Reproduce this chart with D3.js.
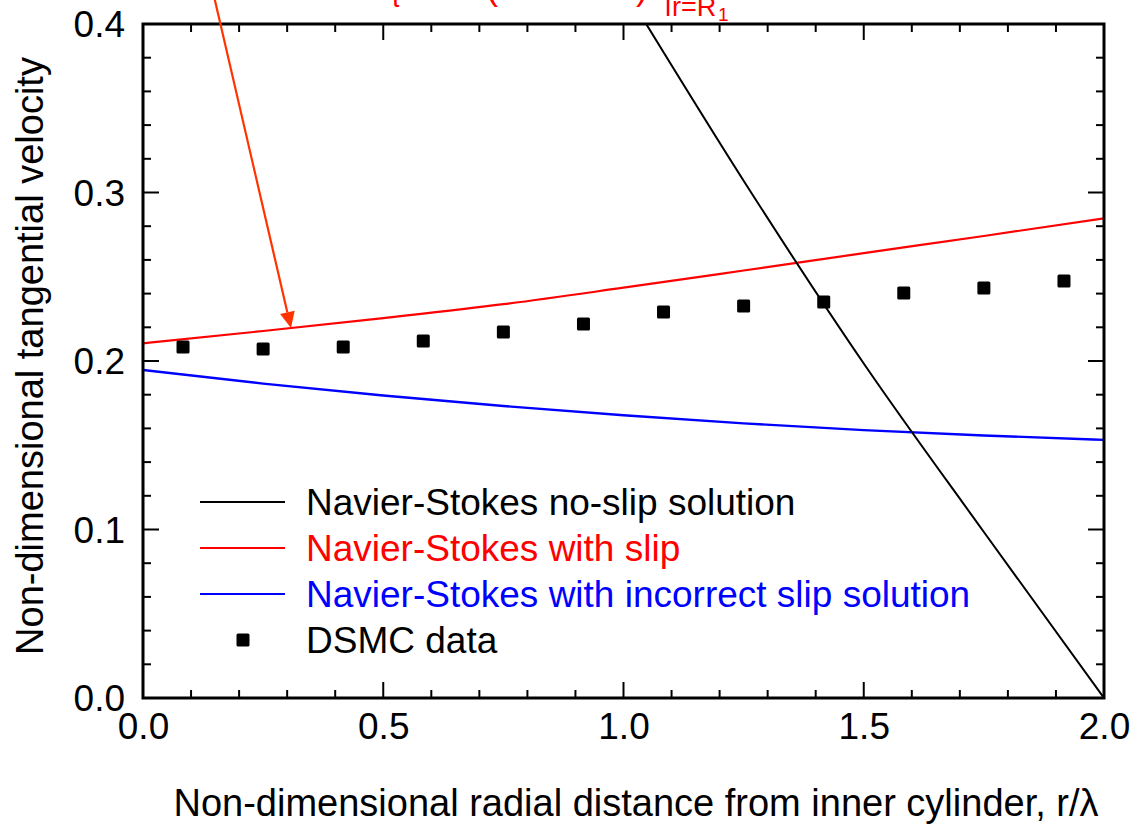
<!DOCTYPE html>
<html>
<head>
<meta charset="utf-8">
<script src="https://cdn.jsdelivr.net/npm/d3@7"></script>
<style>
  html, body { margin: 0; padding: 0; background: #fff; }
  svg { display: block; }
  text { font-family: "Liberation Sans", Arial, Helvetica, sans-serif; }
</style>
</head>
<body>
<svg id="chart" width="1133" height="824"></svg>
<script>
// Tangential velocity profiles between concentric cylinders
const xTicks = [0.0, 0.5, 1.0, 1.5, 2.0];
const yTicks = [0.0, 0.1, 0.2, 0.3, 0.4];

// Navier-Stokes no-slip solution (runs off the top of the frame)
const noSlipR = [1.0, 1.25, 1.5, 1.75, 2.0];
const noSlipV = [0.422, 0.307, 0.1985, 0.0985, 0.0];

// Navier-Stokes with slip
const slipR = [0.0, 0.25, 0.5, 0.75, 1.0, 1.25, 1.5, 1.75, 2.0];
const slipV = [0.2105, 0.2178, 0.2255, 0.2337, 0.2435, 0.2537, 0.2640, 0.2742, 0.2847];

// Navier-Stokes with incorrect slip solution
const badSlipR = [0.0, 0.25, 0.5, 0.75, 1.0, 1.25, 1.5, 1.75, 2.0];
const badSlipV = [0.1947, 0.1866, 0.1795, 0.1733, 0.1678, 0.1630, 0.1590, 0.1558, 0.1532];

// DSMC data
const dsmcR = [0.0833, 0.25, 0.4167, 0.5833, 0.75, 0.9167, 1.0833, 1.25, 1.4167, 1.5833, 1.75, 1.9167];
const dsmcV = [0.2083, 0.2071, 0.2083, 0.2119, 0.2172, 0.2220, 0.2291, 0.2326, 0.2350, 0.2404, 0.2433, 0.2475];

const legendLabels = [
  "Navier-Stokes no-slip solution",
  "Navier-Stokes with slip",
  "Navier-Stokes with incorrect slip solution",
  "DSMC data"
];

const svg = d3.select("#chart");
const M = { left: 143, right: 1104, top: 24, bottom: 698 };
const FS = 37, TFS = 38;

const x = d3.scaleLinear().domain([0, 2]).range([M.left, M.right]);
const y = d3.scaleLinear().domain([0, 0.4]).range([M.bottom, M.top]);

svg.append("defs").append("clipPath").attr("id", "plotClip")
  .append("rect").attr("x", M.left).attr("y", M.top)
  .attr("width", M.right - M.left).attr("height", M.bottom - M.top);

const line = d3.line().x(d => x(d[0])).y(d => y(d[1])).curve(d3.curveMonotoneX);
const zip = (a, b) => a.map((v, i) => [v, b[i]]);

const plot = svg.append("g").attr("clip-path", "url(#plotClip)");

plot.append("path").attr("d", line(zip(badSlipR, badSlipV)))
  .attr("fill", "none").attr("stroke", "#0000ff").attr("stroke-width", 2.4);
plot.append("path").attr("d", line(zip(slipR, slipV)))
  .attr("fill", "none").attr("stroke", "#ff0000").attr("stroke-width", 2.2);
plot.append("path").attr("d", line(zip(noSlipR, noSlipV)))
  .attr("fill", "none").attr("stroke", "#000").attr("stroke-width", 2);

const MS = 13;
plot.selectAll("rect.dsmc").data(zip(dsmcR, dsmcV)).enter().append("rect")
  .attr("class", "dsmc")
  .attr("x", d => x(d[0]) - MS / 2).attr("y", d => y(d[1]) - MS / 2)
  .attr("width", MS).attr("height", MS).attr("rx", 1.5)
  .attr("fill", "#000");

// Axes: ticks on all four sides, pointing inward
const major = 16, minor = 8;
const xMinor = d3.range(0, 2.0001, 0.1);
const yMinor = d3.range(0, 0.40001, 0.02);

const axisBottom = d3.axisBottom(x).tickValues(xTicks).tickFormat(d3.format(".1f")).tickSize(0).tickPadding(0);
const gxb = svg.append("g").attr("transform", `translate(0,${M.bottom})`).call(axisBottom);
gxb.select(".domain").remove();
gxb.selectAll("text").attr("font-size", FS).attr("fill", "#000")
  .attr("font-family", '"Liberation Sans", Arial, sans-serif')
  .attr("dy", null).attr("y", 41);

const axisLeft = d3.axisLeft(y).tickValues(yTicks).tickFormat(d3.format(".1f")).tickSize(0).tickPadding(0);
const gyl = svg.append("g").attr("transform", `translate(${M.left},0)`).call(axisLeft);
gyl.select(".domain").remove();
gyl.selectAll("text").attr("font-size", FS).attr("fill", "#000")
  .attr("font-family", '"Liberation Sans", Arial, sans-serif')
  .attr("x", -18).attr("dy", "0.35em");

const tickG = svg.append("g").attr("stroke", "#000").attr("stroke-width", 2);
xMinor.forEach(v => {
  const isMajor = Math.abs(v * 2 - Math.round(v * 2)) < 1e-6;
  const L = isMajor ? major : minor;
  tickG.append("line").attr("x1", x(v)).attr("x2", x(v)).attr("y1", M.bottom).attr("y2", M.bottom - L);
  tickG.append("line").attr("x1", x(v)).attr("x2", x(v)).attr("y1", M.top).attr("y2", M.top + L);
});
yMinor.forEach(v => {
  const isMajor = Math.abs(v * 10 - Math.round(v * 10)) < 1e-6;
  const L = isMajor ? major : minor;
  tickG.append("line").attr("x1", M.left).attr("x2", M.left + L).attr("y1", y(v)).attr("y2", y(v));
  tickG.append("line").attr("x1", M.right).attr("x2", M.right - L).attr("y1", y(v)).attr("y2", y(v));
});

svg.append("rect").attr("x", M.left).attr("y", M.top)
  .attr("width", M.right - M.left).attr("height", M.bottom - M.top)
  .attr("fill", "none").attr("stroke", "#000").attr("stroke-width", 3);

// Axis titles
svg.append("text").attr("x", 636).attr("y", 816).attr("text-anchor", "middle")
  .attr("font-size", TFS).attr("fill", "#000")
  .text("Non-dimensional radial distance from inner cylinder, r/λ");
svg.append("text").attr("transform", "translate(43,356) rotate(-90)")
  .attr("text-anchor", "middle").attr("font-size", TFS).attr("fill", "#000")
  .text("Non-dimensional tangential velocity");

// Legend
const legColors = ["#000", "#ff0000", "#0000ff", "#000"];
const legY = [502, 548, 594, 640];
const leg = svg.append("g");
legendLabels.forEach((lab, i) => {
  if (i < 3) {
    leg.append("line").attr("x1", 200).attr("x2", 285).attr("y1", legY[i]).attr("y2", legY[i])
      .attr("stroke", legColors[i]).attr("stroke-width", 2.2);
  } else {
    leg.append("rect").attr("x", 243 - MS / 2).attr("y", legY[i] - MS / 2)
      .attr("width", MS).attr("height", MS).attr("rx", 1.5).attr("fill", "#000");
  }
  leg.append("text").attr("x", 306).attr("y", legY[i] + 13)
    .attr("font-size", FS).attr("fill", legColors[i]).text(lab);
});

// Boundary-condition annotation at the top with arrow to the slip curve
const ann = svg.append("g").attr("fill", "#ff0000");
ann.append("text").attr("x", 390).attr("y", 7).attr("font-size", 28).text("τ");
ann.append("text").attr("x", 486).attr("y", -1).attr("font-size", 36).text("(");
ann.append("text").attr("x", 636).attr("y", -1).attr("font-size", 36).text(")");
ann.append("line").attr("x1", 668).attr("x2", 668).attr("y1", -20).attr("y2", 16)
  .attr("stroke", "#ff0000").attr("stroke-width", 2.5);
ann.append("text").attr("x", 672).attr("y", 16).attr("font-size", 27).text("r=R");
ann.append("text").attr("x", 718).attr("y", 21).attr("font-size", 19).text("1");

const tipR = 0.308;
const tipV = slipV[1] + (slipV[2] - slipV[1]) * (tipR - 0.25) / 0.25;
const tip = [x(tipR), y(tipV)];
const start = [213, -8];
const ang = Math.atan2(tip[1] - start[1], tip[0] - start[0]);
const hl = 16, hw = 7.5;
const base = [tip[0] - hl * Math.cos(ang), tip[1] - hl * Math.sin(ang)];
svg.append("line").attr("x1", start[0]).attr("y1", start[1])
  .attr("x2", base[0]).attr("y2", base[1])
  .attr("stroke", "#ff3300").attr("stroke-width", 2.2);
svg.append("path")
  .attr("d", `M${tip[0]},${tip[1]}L${base[0] + hw * Math.sin(ang)},${base[1] - hw * Math.cos(ang)}L${base[0] - hw * Math.sin(ang)},${base[1] + hw * Math.cos(ang)}Z`)
  .attr("fill", "#ff3300");
</script>
</body>
</html>
